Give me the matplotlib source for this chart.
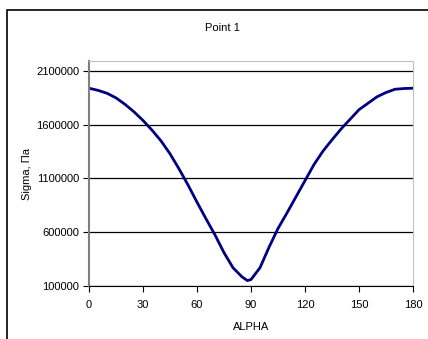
import numpy as np
import matplotlib.pyplot as plt
from matplotlib.patches import Rectangle

plt.rcParams['font.family'] = ['Liberation Sans', 'DejaVu Sans']

# angle (deg) and stress (Pa)
alpha = [0, 5, 10, 15, 20, 25, 30, 35, 40, 45, 50, 55, 60, 65, 70, 75, 80, 85, 88,
         90, 95, 100, 105, 110, 115, 120, 125, 130, 135, 140, 145, 150, 155, 160,
         165, 170, 175, 180]
sigma = [1940000, 1920000, 1893000, 1850000, 1790000, 1720000, 1640000, 1550000,
         1450000, 1330000, 1190000, 1040000, 880000, 725000, 575000, 410000, 270000,
         185000, 150000, 160000, 270000, 460000, 635000, 780000, 930000, 1080000,
         1230000, 1355000, 1460000, 1560000, 1650000, 1740000, 1800000, 1860000,
         1900000, 1930000, 1937000, 1940000]
xticks = [0, 30, 60, 90, 120, 150, 180]
yticks = [100000, 600000, 1100000, 1600000, 2100000]

W, H = 428, 339
fig = plt.figure(figsize=(W / 100, H / 100), dpi=100)
fig.patch.set_facecolor('white')

# outer chart frame (cut off on right and bottom)
fig.patches.append(Rectangle((7 / W, -0.1), 1.2, 1 - 10 / H + 0.1,
                             transform=fig.transFigure, fill=False,
                             edgecolor='black', linewidth=1.2))

ax = fig.add_axes([89 / W, (H - 286) / H, (413 - 89) / W, (286 - 61) / H])
ax.plot(alpha, sigma, color='#000080', linewidth=2)

ax.set_xlim(0, 180)
ax.set_ylim(100000, 2193000)
ax.set_xticks(xticks)
ax.set_yticks(yticks)
ax.set_yticklabels([str(v) for v in yticks])
ax.grid(axis='y', color='black', linewidth=0.9)
ax.set_axisbelow(True)

ax.spines['top'].set_color('#c0c0c0')
ax.spines['right'].set_color('#c0c0c0')
ax.spines['left'].set_color('#808080')
ax.spines['left'].set_linewidth(1.5)
ax.spines['bottom'].set_color('black')
ax.tick_params(axis='both', labelsize=8, length=4, width=0.8)
ax.tick_params(axis='y', color='black', pad=3)
ax.tick_params(axis='x', pad=6)

ax.set_xlabel('ALPHA', fontsize=8, labelpad=9)
ax.set_ylabel('Sigma, Па', fontsize=8, labelpad=3)
fig.text(222 / W, 1 - 28 / H, 'Point 1', ha='center', va='center', fontsize=8)

plt.savefig('out.png', dpi=100)
